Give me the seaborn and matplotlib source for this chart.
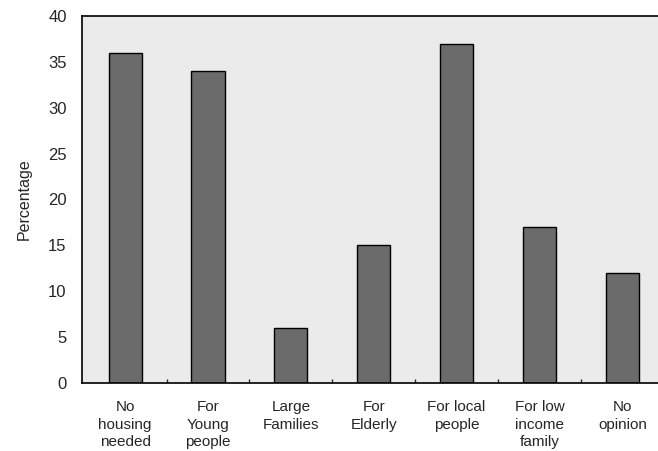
import pandas as pd
import seaborn as sns
import matplotlib.pyplot as plt
from matplotlib.ticker import FixedLocator

categorias = ['No\nhousing\nneeded', 'For\nYoung\npeople', 'Large\nFamilies',
              'For\nElderly', 'For local\npeople', 'For low\nincome\nfamily', 'No\nopinion']
percentagens = [36, 34, 6, 15, 37, 17, 12]

dados = pd.DataFrame({'Categoria': categorias, 'Percentage': percentagens})

sns.set_style('white')
plt.rcParams['font.family'] = ['Liberation Sans', 'DejaVu Sans']

fig = plt.figure(figsize=(6.58, 4.51), dpi=100)
ax = fig.add_axes([0.1246, 0.1508, 0.8754, 0.8137])
ax.set_facecolor('#ebebeb')

sns.barplot(data=dados, x='Categoria', y='Percentage', color='#6b6b6b',
            width=0.4, edgecolor='black', linewidth=1.0, saturation=1, ax=ax)

ax.set_ylim(0, 40)
ax.set_xlim(-0.52, 6.43)
ax.set_yticks(range(0, 41, 5))
ax.tick_params(axis='y', direction='out', length=5, width=1, labelsize=12, pad=6)
ax.tick_params(axis='x', which='major', length=0, labelsize=11, pad=12)
for rotulo in ax.get_xticklabels():
    rotulo.set_linespacing(1.35)
ax.xaxis.set_minor_locator(FixedLocator([i + 0.5 for i in range(6)]))
ax.tick_params(axis='x', which='minor', direction='in', length=3, width=1, bottom=True)
ax.set_xlabel('')
ax.set_ylabel('Percentage', fontsize=11.5, labelpad=12)

for lado in ['left', 'bottom', 'top']:
    ax.spines[lado].set_visible(True)
    ax.spines[lado].set_color('black')
    ax.spines[lado].set_linewidth(1.2)
ax.spines['right'].set_visible(False)

plt.savefig('out.png', dpi=100)
